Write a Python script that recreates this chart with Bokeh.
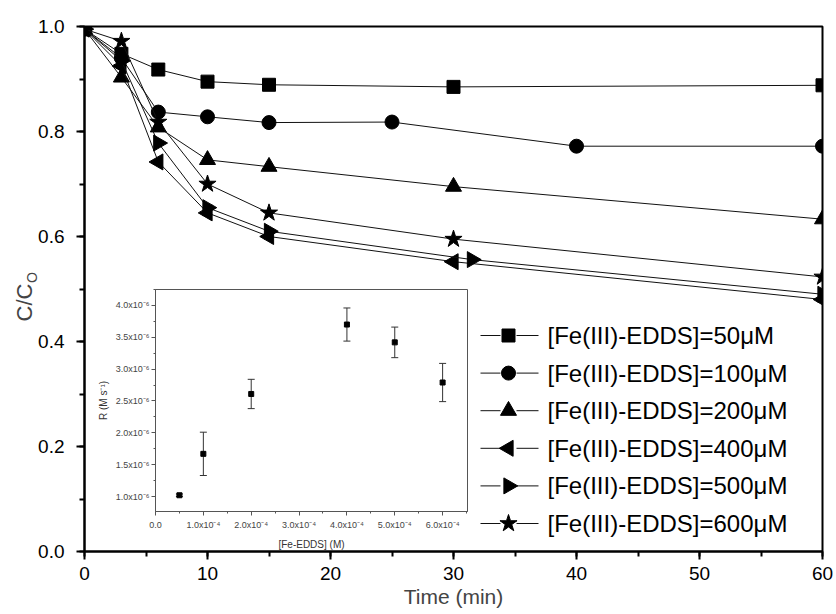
import numpy as np
from bokeh.plotting import figure
from bokeh.models import (ColumnDataSource, SingleIntervalTicker, Range1d,
                          FixedTicker, NumeralTickFormatter, Label, Whisker, TeeHead, GridBox)
from bokeh.core.properties import value
from bokeh.embed import file_html
from bokeh.resources import INLINE

# ---------------- data: main chart ----------------
labels = ["[Fe(III)-EDDS]=50μM", "[Fe(III)-EDDS]=100μM", "[Fe(III)-EDDS]=200μM",
          "[Fe(III)-EDDS]=400μM", "[Fe(III)-EDDS]=500μM", "[Fe(III)-EDDS]=600μM"]
t_50 = [0, 3, 6, 10, 15, 30, 60]
c_50 = [0.995, 0.948, 0.918, 0.895, 0.889, 0.885, 0.888]
t_100 = [0, 3, 6, 10, 15, 25, 40, 60]
c_100 = [0.995, 0.940, 0.837, 0.828, 0.817, 0.818, 0.772, 0.772]
t_200 = [0, 3, 6, 10, 15, 30, 60]
c_200 = [0.995, 0.903, 0.808, 0.746, 0.733, 0.695, 0.633]
t_400 = [0, 3, 6, 10, 15, 30, 60]
c_400 = [0.995, 0.925, 0.742, 0.645, 0.600, 0.552, 0.480]
t_500 = [0, 3, 6, 10, 15, 31.5, 60]
c_500 = [0.995, 0.935, 0.778, 0.655, 0.610, 0.556, 0.490]
t_600 = [0, 3, 6, 10, 15, 30, 60]
c_600 = [0.995, 0.972, 0.818, 0.700, 0.645, 0.595, 0.523]

# ---------------- data: inset ----------------
conc_M = [0.5e-4, 1.0e-4, 2.0e-4, 4.0e-4, 5.0e-4, 6.0e-4]
rate = [1.02e-6, 1.67e-6, 2.61e-6, 3.70e-6, 3.42e-6, 2.79e-6]
rate_err = [0.02e-6, 0.34e-6, 0.23e-6, 0.26e-6, 0.24e-6, 0.30e-6]
inset_xticks = [0, 1, 2, 3, 4, 5, 6]  # in units of 1e-4 M
inset_xtick_labels = ["0.0", "1.0x10⁻⁴", "2.0x10⁻⁴", "3.0x10⁻⁴", "4.0x10⁻⁴", "5.0x10⁻⁴", "6.0x10⁻⁴"]
inset_yticks = [1.0, 1.5, 2.0, 2.5, 3.0, 3.5, 4.0]  # in units of 1e-6 M/s
inset_ytick_labels = ["1.0x10⁻⁶", "1.5x10⁻⁶", "2.0x10⁻⁶", "2.5x10⁻⁶", "3.0x10⁻⁶", "3.5x10⁻⁶", "4.0x10⁻⁶"]

FONT = "Liberation Sans"
W, H = 836, 614
BL, BR, BT, BB = 84, 14, 26, 63
FW, FH = W - BL - BR, H - BT - BB

# ---------------- main figure ----------------
p = figure(width=W, height=H, x_range=(0, 60), y_range=(0, 1.0),
           output_backend="svg", toolbar_location=None,
           min_border_left=BL, min_border_right=BR, min_border_top=BT, min_border_bottom=BB)
p.extra_x_ranges = {"px": Range1d(0, FW)}
p.extra_y_ranges = {"px": Range1d(0, FH)}
p.xgrid.visible = False
p.ygrid.visible = False
p.outline_line_color = "black"
p.outline_line_width = 2
p.outline_line_alpha = 1

p.xaxis.ticker = SingleIntervalTicker(interval=10, num_minor_ticks=2)
p.yaxis.ticker = SingleIntervalTicker(interval=0.2, num_minor_ticks=2)
p.yaxis.formatter = NumeralTickFormatter(format="0.0")
for ax in (p.xaxis[0], p.yaxis[0]):
    ax.axis_line_width = 2
    ax.axis_line_color = "black"
    ax.major_tick_line_width = 2
    ax.minor_tick_line_width = 2
    ax.major_tick_out = 8
    ax.major_tick_in = 0
    ax.minor_tick_out = 5
    ax.minor_tick_in = 0
    ax.major_label_text_font = FONT
    ax.major_label_text_font_size = "19px"
    ax.major_label_text_color = "black"
p.yaxis.major_label_standoff = 12
p.xaxis.major_label_standoff = 7
p.xaxis.axis_label = "Time (min)"
p.xaxis.axis_label_text_font = FONT
p.xaxis.axis_label_text_font_size = "21px"
p.xaxis.axis_label_text_font_style = "normal"
p.xaxis.axis_label_standoff = 2

series = [
    (t_50, c_50, "square", 0.0, 13),
    (t_100, c_100, "circle", 0.0, 14),
    (t_200, c_200, "triangle", 0.0, 16),
    (t_400, c_400, "triangle", np.pi / 2, 16),
    (t_500, c_500, "triangle", -np.pi / 2, 16),
    (t_600, c_600, "star", 0.0, 18),
]
for t, c, mk, ang, sz in series:
    src = ColumnDataSource(dict(t=t, c=c))
    p.line("t", "c", source=src, line_color="#111111", line_width=1)
    p.scatter("t", "c", source=src, marker=mk, angle=ang, size=sz,
              fill_color="black", line_color="black")

# ---------------- legend (drawn in frame pixel units) ----------------
LEG_X = 424          # marker centre, px from frame left
LEG_Y0 = 216         # first row centre, px from frame bottom
LEG_DY = 37.6
n = len(labels)
rows_y = [LEG_Y0 - i * LEG_DY for i in range(n)]
p.segment(x0=[LEG_X - 28] * n, x1=[LEG_X - 8] * n, y0=rows_y, y1=rows_y,
          line_color="#111111", line_width=1, x_range_name="px", y_range_name="px")
p.segment(x0=[LEG_X + 8] * n, x1=[LEG_X + 30] * n, y0=rows_y, y1=rows_y,
          line_color="#111111", line_width=1, x_range_name="px", y_range_name="px")
for (t, c, mk, ang, sz), yy in zip(series, rows_y):
    p.scatter([LEG_X], [yy], marker=mk, angle=ang, size=sz, fill_color="black",
              line_color="black", x_range_name="px", y_range_name="px")
p.text(x=[LEG_X + 39] * n, y=rows_y, text=labels, text_baseline="middle", text_align="left",
       text_font=value(FONT), text_font_size="24px", text_color="black",
       x_range_name="px", y_range_name="px")

# ---------------- y-axis title C/C_O (small transparent overlay plot) ----------------
LW, LH = 40, 120
ylab = figure(width=LW, height=LH, x_range=(0, LW), y_range=(0, LH),
              output_backend="svg", toolbar_location=None, min_border=0,
              x_axis_location=None, y_axis_location=None,
              background_fill_alpha=0, border_fill_alpha=0, outline_line_color=None)
ylab.xgrid.visible = False
ylab.ygrid.visible = False
ylab.add_layout(Label(x=20, y=58, x_units="screen", y_units="screen", text="C/C",
                      angle=np.pi / 2, text_align="center", text_baseline="middle",
                      text_font=FONT, text_font_size="22px"))
ylab.add_layout(Label(x=27, y=83, x_units="screen", y_units="screen", text="O",
                      angle=np.pi / 2, text_align="center", text_baseline="middle",
                      text_font=FONT, text_font_size="14px"))

# ---------------- inset figure ----------------
q = figure(width=381, height=272, x_range=(0, 6.52), y_range=(0.765, 4.25),
           output_backend="svg", toolbar_location=None,
           min_border_left=60, min_border_right=8, min_border_top=5, min_border_bottom=45,
           background_fill_alpha=0, border_fill_alpha=0)
q.xgrid.visible = False
q.ygrid.visible = False
q.outline_line_color = "#555555"
q.outline_line_width = 1
q.xaxis.ticker = FixedTicker(ticks=inset_xticks, minor_ticks=[v + 0.5 for v in inset_xticks])
q.yaxis.ticker = FixedTicker(ticks=inset_yticks, minor_ticks=[v + 0.25 for v in inset_yticks])
q.xaxis.major_label_overrides = {float(k): v for k, v in zip(inset_xticks, inset_xtick_labels)}
q.yaxis.major_label_overrides = {float(k): v for k, v in zip(inset_yticks, inset_ytick_labels)}
for ax in (q.xaxis[0], q.yaxis[0]):
    ax.axis_line_color = "#555555"
    ax.axis_line_width = 1
    ax.major_tick_line_color = "#555555"
    ax.minor_tick_line_color = "#555555"
    ax.major_tick_out = 4
    ax.major_tick_in = 0
    ax.minor_tick_out = 2
    ax.minor_tick_in = 0
    ax.major_label_text_font = FONT
    ax.major_label_text_font_size = "9px"
    ax.major_label_text_color = "#444444"
    ax.axis_label_text_font = FONT
    ax.axis_label_text_font_size = "10px"
    ax.axis_label_text_font_style = "normal"
    ax.axis_label_text_color = "#333333"
q.yaxis.major_label_standoff = 2
q.xaxis.major_label_standoff = 4
q.xaxis.axis_label = "[Fe-EDDS] (M)"
q.yaxis.axis_label = "R (M s⁻¹)"
q.xaxis.axis_label_standoff = 6
q.yaxis.axis_label_standoff = 4

isrc = ColumnDataSource(dict(
    x=[v / 1e-4 for v in conc_M],
    y=[v / 1e-6 for v in rate],
    upper=[(r + e) / 1e-6 for r, e in zip(rate, rate_err)],
    lower=[(r - e) / 1e-6 for r, e in zip(rate, rate_err)],
))
q.add_layout(Whisker(base="x", upper="upper", lower="lower", source=isrc,
                     line_color="#333333", line_width=1,
                     upper_head=TeeHead(size=7, line_color="#333333", line_width=1),
                     lower_head=TeeHead(size=7, line_color="#333333", line_width=1)))
q.scatter("x", "y", source=isrc, marker="square", size=5, fill_color="black", line_color="black")

# grid tracks: cols 0-4 | 4-44 | 44-94 | 94-475 | 475-836 ; rows 0-240 | 240-284 | 284-360 | 360-556 | 556-614
grid = GridBox(children=[(p, 0, 0, 5, 5), (ylab, 1, 1, 2, 1), (q, 2, 3, 2, 1)],
               rows=["240px", "44px", "76px", "196px", "58px"],
               cols=["4px", "40px", "50px", "381px", "361px"])

open("out.html", "w").write(file_html(grid, INLINE))
